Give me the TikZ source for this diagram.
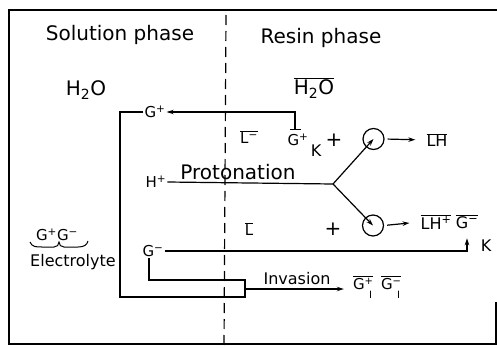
\documentclass[tikz,border=0pt]{standalone}
\usepackage{fontspec}
\setmainfont{DejaVu Sans}
\usetikzlibrary{arrows.meta}
\newcommand\ovl[1]{$\overline{\hbox{#1}}$}
\newcommand\gsi[1]{\ovl{G\raisebox{5pt}{\fontsize{10}{10}\selectfont #1}}\llap{\raisebox{-9pt}{\fontsize{10}{10}\selectfont I}\kern1pt}}
\begin{document}
\begin{tikzpicture}[x=1pt,y=-1pt,
  big/.style={inner sep=1pt, font=\fontsize{20}{22}\selectfont},
  mid/.style={inner sep=1pt, font=\fontsize{16}{18}\selectfont},
  sm/.style={inner sep=1pt, font=\fontsize{15}{17}\selectfont},
  ln/.style={line width=1.2pt},
  arr/.style={line width=1.2pt,-{Stealth[length=7pt,width=4.5pt]}},
  bubble/.style={circle, draw, line width=1.2pt, minimum size=21pt, inner sep=0pt},
  divider/.style={line width=1.2pt, dash pattern=on 10pt off 6pt}]
\useasboundingbox (0,0) rectangle (497,348);
% frame
\draw[ln] (496,302) -- (496,344) -- (9,344) -- (9,10) -- (497,10);
% phase divider
\draw[divider] (226,15) -- (224,345);
% headings
\node[big] (sol) at (120,35) {Solution phase};
\node[big] (res) at (321,38) {Resin phase};
\node[big] (h2o) at (86,90) {H\textsubscript{2}O};
\node[big] (h2or) at (314,88) {\ovl{H\textsubscript{2}O}};
% upper row
\node[sm] (gp) at (155,112) {G\textsuperscript{+}};
\node[sm] (lb1) at (249,137) {\ovl{L\textsuperscript{−}}};
\node[sm] (gk) at (298,140) {G\textsuperscript{+}};
\coordinate (gkt) at ([xshift=-3pt,yshift=3pt]gk.north);
\draw[ln] ([xshift=-5pt]gkt) -- ([xshift=6pt]gkt);
\node[mid] (k1) at (316,151) {K};
\node[big] (pl1) at (334,140) {+};
\node[bubble] (c1) at (373.5,139) {};
\node[mid] (lh1) at (437,140) {\ovl{LH}};
\draw[arr] (gkt) -- (gkt |- gp.east) -- (gp.east);
\draw[arr, shorten <=3pt, shorten >=10pt] (c1.east) -- (lh1.west);
% protonation
\node[sm] (hp) at (156,182) {H\textsuperscript{+}};
\node[big] (prot) at (238,172) {Protonation};
\coordinate (br) at (333,184);
\draw[ln] (hp.east) -- (br);
\draw[arr] (br) -- (c1.center);
% lower row
\node[sm] (lb2) at (249,229) {\ovl{L}};
\node[big] (pl2) at (333,229) {+};
\node[bubble] (c2) at (373,225.5) {};
\draw[arr] (br) -- (c2.center);
\node[mid] (lh2) at (436,222) {\ovl{LH\textsuperscript{+}}};
\node[mid] (g2) at (467,222) {\ovl{G\textsuperscript{−}}};
\node[mid] (k2) at (486,246) {K};
\draw[arr, shorten <=3pt, shorten >=10pt] (c2.east) -- (lh2.west);
\node[sm] (gm) at (153,251) {G\textsuperscript{−}};
\draw[arr] (gm.east) -| ([yshift=-8pt]g2.south);
% electrolyte
\node[sm] (gg) at (57,235) {G\textsuperscript{+}G\textsuperscript{−}};
\node[mid] (el) at (73,262) {Electrolyte};
\draw[line width=1pt] (30,242) .. controls (32,247) and (36,247) .. (42,247) -- (54,247) .. controls (57,247) and (59,245) .. (59,242) .. controls (59,245) and (61,247) .. (64,247) -- (78,247) .. controls (84,247) and (87,245) .. (88,241);
% invasion loop
\coordinate (bl) at (120,297);
\coordinate (bx) at (245,297);
\coordinate (tx) at (245,280);
\coordinate (inv) at (245,289);
\draw[ln] (gp.west) -| (bl) -- (bx) -- (tx) -| ([xshift=-4pt]gm.south);
\node[mid] (invl) at (297,279) {Invasion};
\node[sm] (gi1) at (363,287) {\gsi{+}};
\node[sm] (gi2) at (391,287) {\gsi{−}};
\draw[arr, shorten >=8pt] (inv) -- (inv -| gi1.west);
\end{tikzpicture}
\end{document}
